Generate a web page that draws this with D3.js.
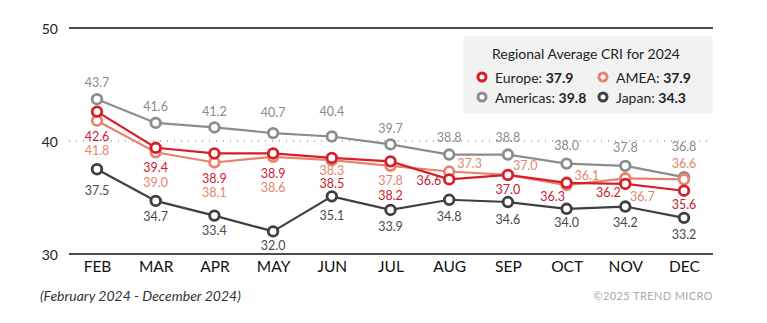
<!DOCTYPE html>
<html>
<head>
<meta charset="utf-8">
<script src="https://cdn.jsdelivr.net/npm/d3@7"></script>
<style>
	body { margin: 0; background: #fff; }
	svg { font-family: "Lato", "Open Sans", sans-serif; }
</style>
</head>
<body>
<svg id="chart" width="767" height="323"></svg>
<script>
var months = ["FEB", "MAR", "APR", "MAY", "JUN", "JUL", "AUG", "SEP", "OCT", "NOV", "DEC"];
var yTicks = [30, 40, 50];

var europe   = [42.6, 39.4, 38.9, 38.9, 38.5, 38.2, 36.6, 37.0, 36.3, 36.2, 35.6];
var amea     = [41.8, 39.0, 38.1, 38.6, 38.3, 37.8, 37.3, 37.0, 36.1, 36.7, 36.6];
var americas = [43.7, 41.6, 41.2, 40.7, 40.4, 39.7, 38.8, 38.8, 38.0, 37.8, 36.8];
var japan    = [37.5, 34.7, 33.4, 32.0, 35.1, 33.9, 34.8, 34.6, 34.0, 34.2, 33.2];

var averages = {Europe: "37.9", AMEA: "37.9", Americas: "39.8", Japan: "34.3"};

// label placement per point: [dx, dy, anchor]
var placeAmericas = [[0,-17],[0,-16],[0,-16],[0,-21],[0,-25],[0,-16],[0,-17],[0,-17],[0,-18],[0,-18],[0,-31]];
var placeEurope   = [[0,25],[0,20],[0,25],[0,20],[0,26],[0,34],[-8,1,"end"],[0,15],[-14,14],[-17,9],[0,14]];
var placeAmea     = [[0,30],[0,30],[0,30],[0,31],[0,10],[0,15],[8,-8,"start"],[5,-9,"start"],[8,-10,"start"],[17,18],[0,-16]];
var placeJapan    = [[0,21],[0,16],[0,15],[0,14],[0,19],[0,17],[0,17],[0,17],[0,14],[0,16],[0,17]];

var series = [
	{name: "Americas", values: americas, color: "#8c8c8c", text: "#8a8a8a", place: placeAmericas},
	{name: "Japan", values: japan, color: "#3f3f3f", text: "#4a4a4a", place: placeJapan},
	{name: "AMEA", values: amea, color: "#e9826b", text: "#e5846c", place: placeAmea},
	{name: "Europe", values: europe, color: "#d71e28", text: "#c8202f", place: placeEurope}
];

var svg = d3.select("#chart");
var left = 69, right = 713;

var x = d3.scalePoint().domain(months).range([97, 684]);
var y = d3.scaleLinear().domain([30, 50]).range([254, 28]);

// grid lines
yTicks.forEach(function (t) {
	svg.append("line")
		.attr("x1", left).attr("x2", right)
		.attr("y1", y(t)).attr("y2", y(t))
		.attr("stroke", t == 40 ? "#9a9a9a" : "#111")
		.attr("stroke-width", t == 40 ? 1.3 : 1.5)
		.attr("stroke-dasharray", t == 40 ? "1,6" : null);
	svg.append("text")
		.attr("x", 58).attr("y", y(t))
		.attr("text-anchor", "end")
		.attr("dominant-baseline", "central")
		.attr("font-size", 14)
		.attr("fill", "#222")
		.text(t);
});

// month axis
var xAxis = svg.append("g")
	.attr("transform", "translate(0," + y(30) + ")")
	.call(d3.axisBottom(x).tickSize(0).tickPadding(7));
xAxis.select(".domain").remove();
xAxis.selectAll("text")
	.attr("font-size", 15.5)
	.attr("font-family", "Lato, sans-serif")
	.attr("fill", "#111");

// legend box
svg.append("rect")
	.attr("x", 463).attr("y", 36)
	.attr("width", 250).attr("height", 78)
	.attr("rx", 4)
	.attr("fill", "#f2f2f2");
svg.append("text")
	.attr("x", 586).attr("y", 53)
	.attr("text-anchor", "middle")
	.attr("dominant-baseline", "central")
	.attr("font-size", 14)
	.attr("fill", "#222")
	.text("Regional Average CRI for 2024");

var legendItems = [
	{name: "Europe", cx: 482, cy: 77},
	{name: "AMEA", cx: 603, cy: 77},
	{name: "Americas", cx: 482, cy: 97},
	{name: "Japan", cx: 603, cy: 97}
];
legendItems.forEach(function (d) {
	var s = series.filter(function (e) { return e.name == d.name; })[0];
	svg.append("circle")
		.attr("cx", d.cx).attr("cy", d.cy).attr("r", 4)
		.attr("fill", "#fff")
		.attr("stroke", s.color)
		.attr("stroke-width", 3);
	var t = svg.append("text")
		.attr("x", d.cx + 13).attr("y", d.cy)
		.attr("dominant-baseline", "central")
		.attr("font-size", 14)
		.attr("fill", "#222");
	t.append("tspan").text(d.name + ": ");
	t.append("tspan").attr("font-weight", "bold").text(averages[d.name]);
});

// lines and markers
var line = d3.line()
	.x(function (d, i) { return x(months[i]); })
	.y(function (d) { return y(d); });

series.forEach(function (s) {
	svg.append("path")
		.datum(s.values)
		.attr("d", line)
		.attr("fill", "none")
		.attr("stroke", s.color)
		.attr("stroke-width", 2.2);
});

series.forEach(function (s) {
	svg.append("g").selectAll("circle")
		.data(s.values)
		.enter().append("circle")
		.attr("cx", function (d, i) { return x(months[i]); })
		.attr("cy", function (d) { return y(d); })
		.attr("r", 4.8)
		.attr("fill", "#fff")
		.attr("stroke", s.color)
		.attr("stroke-width", 2.8);
});

// value labels
series.forEach(function (s) {
	svg.append("g").selectAll("text")
		.data(s.values)
		.enter().append("text")
		.attr("x", function (d, i) { return x(months[i]) + s.place[i][0]; })
		.attr("y", function (d, i) { return y(d) + s.place[i][1]; })
		.attr("text-anchor", function (d, i) { return s.place[i][2] || "middle"; })
		.attr("dominant-baseline", "central")
		.attr("font-size", 12.5)
		.attr("fill", s.text)
		.text(function (d) { return d.toFixed(1); });
});

// footer
svg.append("text")
	.attr("x", 40).attr("y", 295)
	.attr("dominant-baseline", "central")
	.attr("font-size", 14)
	.attr("font-style", "italic")
	.attr("fill", "#333")
	.text("(February 2024 - December 2024)");
svg.append("text")
	.attr("x", right).attr("y", 295)
	.attr("text-anchor", "end")
	.attr("dominant-baseline", "central")
	.attr("font-size", 11)
	.attr("letter-spacing", 0.4)
	.attr("fill", "#aaa")
	.text("\u00a92025 TREND MICRO");
</script>
</body>
</html>
